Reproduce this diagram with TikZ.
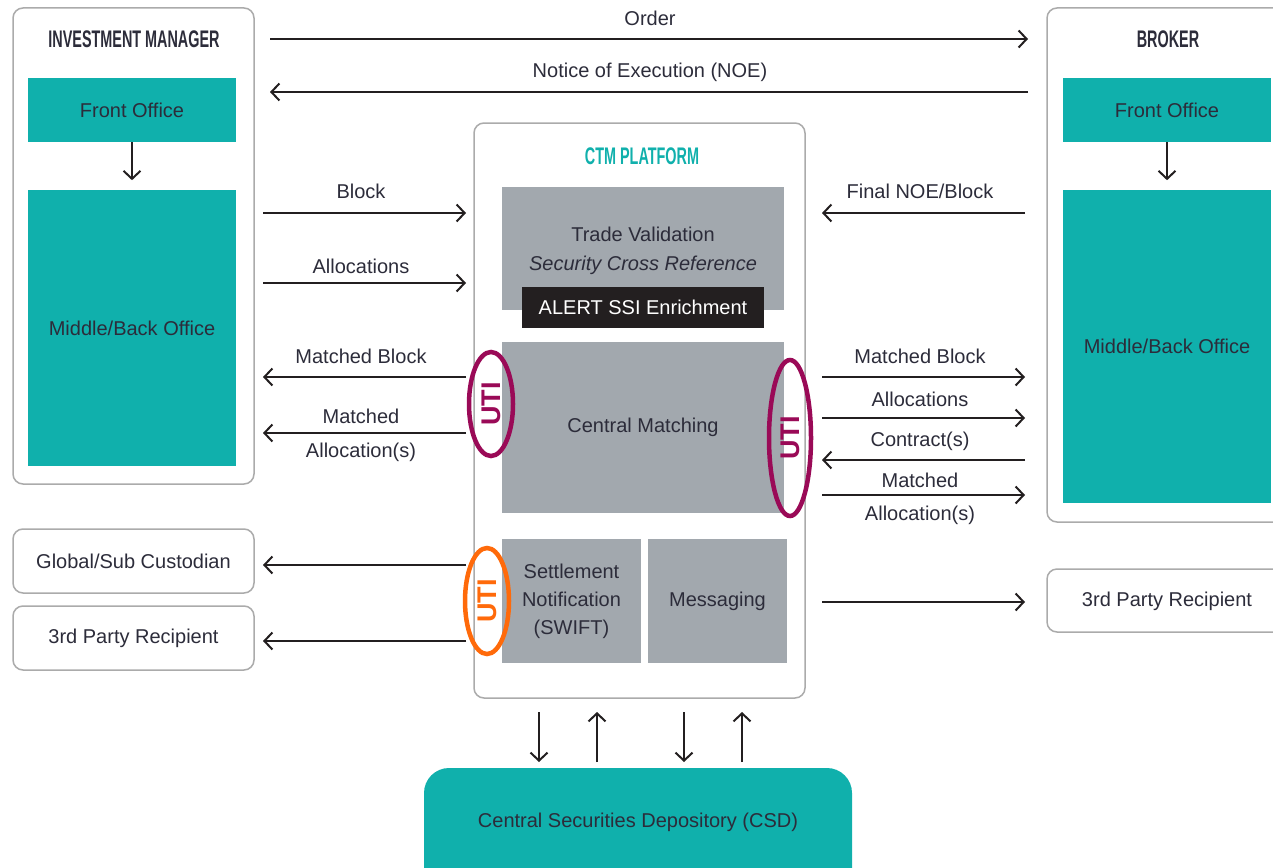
\documentclass[tikz,border=0pt]{standalone}
\usepackage{fontspec}
\usepackage{graphicx}
\setmainfont{Liberation Sans}
\usetikzlibrary{arrows.meta,shapes.geometric}

\definecolor{ctmteal}{HTML}{10B0AC}
\definecolor{ctmgray}{HTML}{A2A8AE}
\definecolor{ctmink}{HTML}{2C2C3A}
\definecolor{ctmframe}{HTML}{ABABAB}
\definecolor{ctmblack}{HTML}{231F20}
\definecolor{utipurple}{HTML}{9A0A57}
\definecolor{utiorange}{HTML}{FF6A0A}

\tikzset{
  txt/.style={font=\fontsize{20}{24}\selectfont, text=ctmink, inner sep=0pt, align=center},
  hdr/.style={font=\fontsize{24}{24}\selectfont\bfseries, inner sep=0pt},
  frame/.style={draw=ctmframe, line width=1.5pt, rounded corners=10pt, fill=white, inner sep=0pt},
  tealbox/.style={fill=ctmteal, draw=none, inner sep=0pt, txt},
  graybox/.style={fill=ctmgray, draw=none, inner sep=0pt, txt},
  flow/.style={line width=2pt, draw=ctmblack, -{Straight Barb[length=8pt,width=17pt,line width=2pt]}},
  uti/.style={ellipse, line width=4.5pt, inner sep=0pt,
    font=\fontsize{27}{27}\selectfont\bfseries},
}

\begin{document}
\begin{tikzpicture}[x=1pt,y=-1pt]
\useasboundingbox (0,0) rectangle (1273,867);
\clip (0,0) rectangle (1273,867);

% ---------- Investment manager ----------
\node[frame, minimum width=241pt, minimum height=476pt] (im) at (133.5,246) {};
\node[hdr, text=ctmink] (imhdr) at (134,39) {\scalebox{0.6}[1]{INVESTMENT MANAGER}};
\node[tealbox, minimum width=208pt, minimum height=64pt] (imfo) at (132,110) {Front Office};
\node[tealbox, minimum width=208pt, minimum height=276pt] (imbo) at (132,328) {Middle/Back Office};
\draw[flow] (imfo.south) -- ++(0,38);

% ---------- Broker ----------
\node[frame, minimum width=243pt, minimum height=514pt] (bk) at (1168.5,265) {};
\node[hdr, text=ctmink] (bkhdr) at (1168,39) {\scalebox{0.6}[1]{BROKER}};
\node[tealbox, minimum width=208pt, minimum height=64pt] (bkfo) at (1167,110) {Front Office};
\node[tealbox, minimum width=208pt, minimum height=313pt] (bkbo) at (1167,346.5) {Middle/Back Office};
\draw[flow] (bkfo.south) -- ++(0,38);

% ---------- CTM platform ----------
\node[frame, minimum width=331pt, minimum height=575pt] (ctm) at (639.5,410.5) {};
\node[hdr, text=ctmteal] (ctmhdr) at (642,156) {\scalebox{0.6}[1]{CTM PLATFORM}};
\node[graybox, minimum width=282pt, minimum height=123pt] (tv) at (643,248.5) {};
\node[txt] (tvt) at (643,234) {Trade Validation};
\node[txt] (tvs) at (643,265) {\itshape Security Cross Reference};
\node[fill=ctmblack, inner sep=0pt, minimum width=242pt, minimum height=41pt,
      font=\fontsize{20}{24}\selectfont, text=white] (alert) at (643,307.5) {ALERT SSI Enrichment};
\node[graybox, minimum width=282pt, minimum height=171pt] (cm) at (643,427.5) {Central Matching};
\node[graybox, minimum width=139pt, minimum height=124pt] (sn) at (571.5,601)
  {Settlement\\[4pt]Notification\\[4pt](SWIFT)};
\node[graybox, minimum width=139pt, minimum height=124pt] (msg) at (717.5,601) {Messaging};

% ---------- UTI markers ----------
\node[uti, draw=utipurple, text=utipurple, minimum width=44pt, minimum height=104pt] (util) at (491,404) {\rotatebox{90}{UTI}};
\node[uti, draw=utipurple, text=utipurple, minimum width=42pt, minimum height=156pt] (utir) at (790,438) {\rotatebox{90}{UTI}};
\node[uti, draw=utiorange, text=utiorange, minimum width=44pt, minimum height=106pt] (utio) at (487,601) {\rotatebox{90}{UTI}};

% ---------- Side recipients ----------
\node[frame, minimum width=241pt, minimum height=64pt, txt] (gsc) at (133.5,561) {Global/Sub Custodian};
\node[frame, minimum width=241pt, minimum height=64pt, txt] (tprl) at (133.5,638) {3rd Party Recipient};
\node[frame, minimum width=243pt, minimum height=63pt] (tprr) at (1168.5,600.5) {};
\node[txt] (tprrt) at (1167,601) {3rd Party Recipient};

% ---------- CSD ----------
\node[fill=ctmteal, rounded corners=25pt, inner sep=0pt, minimum width=428pt, minimum height=130pt, txt] (csd) at (638,833)
  {\raisebox{6pt}[0pt][0pt]{Central Securities Depository (CSD)}};

% ---------- connector end points ----------
\coordinate (ordA) at (270,39);   \coordinate (ordB) at (1028,39);
\coordinate (noeA) at (1028,92);  \coordinate (noeB) at (270,92);
\coordinate (blkA) at (263,213);  \coordinate (blkB) at (466,213);
\coordinate (allA) at (263,283);  \coordinate (allB) at (466,283);
\coordinate (mbA) at (466,377);   \coordinate (mbB) at (263,377);
\coordinate (maA) at (466,433);   \coordinate (maB) at (263,433);
\coordinate (fnA) at (1025,213);  \coordinate (fnB) at (822,213);
\coordinate (rmbA) at (822,377);  \coordinate (rmbB) at (1025,377);
\coordinate (ralA) at (822,418);  \coordinate (ralB) at (1025,418);
\coordinate (rctA) at (1025,460); \coordinate (rctB) at (822,460);
\coordinate (rmaA) at (822,495);  \coordinate (rmaB) at (1025,495);
\coordinate (gscA) at (466,565);  \coordinate (gscB) at (263,565);
\coordinate (tplA) at (466,641);  \coordinate (tplB) at (263,641);
\coordinate (tprA) at (822,602);  \coordinate (tprB) at (1025,602);
\coordinate (d1A) at (539,712);   \coordinate (d1B) at (539,762);
\coordinate (u1A) at (597,762);   \coordinate (u1B) at (597,712);
\coordinate (d2A) at (684,712);   \coordinate (d2B) at (684,762);
\coordinate (u2A) at (742,762);   \coordinate (u2B) at (742,712);

% ---------- connectors ----------
\draw[flow] (ordA) -- (ordB);
\draw[flow] (noeA) -- (noeB);
\draw[flow] (blkA) -- (blkB);
\draw[flow] (allA) -- (allB);
\draw[flow] (mbA) -- (mbB);
\draw[flow] (maA) -- (maB);
\draw[flow] (fnA) -- (fnB);
\draw[flow] (rmbA) -- (rmbB);
\draw[flow] (ralA) -- (ralB);
\draw[flow] (rctA) -- (rctB);
\draw[flow] (rmaA) -- (rmaB);
\draw[flow] (gscA) -- (gscB);
\draw[flow] (tplA) -- (tplB);
\draw[flow] (tprA) -- (tprB);
\draw[flow] (d1A) -- (d1B);
\draw[flow] (u1A) -- (u1B);
\draw[flow] (d2A) -- (d2B);
\draw[flow] (u2A) -- (u2B);

% ---------- connector labels ----------
\node[txt] (lord) at (650,18) {Order};
\node[txt] (lnoe) at (650,72) {Notice of Execution (NOE)};
\node[txt] (lblk) at (361,191) {Block};
\node[txt] (lall) at (361,266) {Allocations};
\node[txt] (lmb) at (361,356) {Matched Block};
\node[txt] (lma1) at (361,416) {Matched};
\node[txt] (lma2) at (361,452) {Allocation(s)};
\node[txt] (lfn) at (920,191) {Final NOE/Block};
\node[txt] (lrmb) at (920,356) {Matched Block};
\node[txt] (lral) at (920,399) {Allocations};
\node[txt] (lrct) at (920,441) {Contract(s)};
\node[txt] (lrma1) at (920,480) {Matched};
\node[txt] (lrma2) at (920,515) {Allocation(s)};
\end{tikzpicture}
\end{document}
